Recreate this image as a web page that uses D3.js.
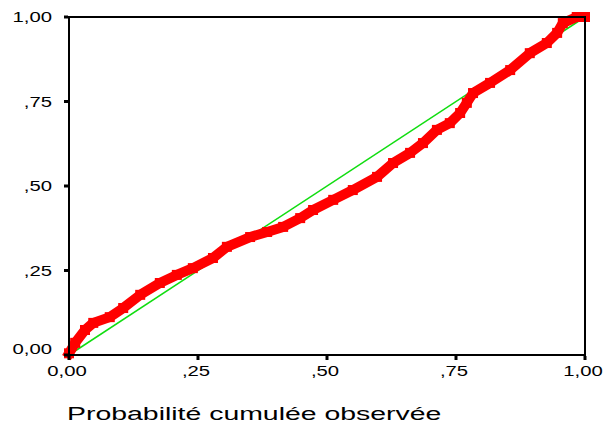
<!DOCTYPE html>
<html>
<head>
<meta charset="utf-8">
<script src="https://cdn.jsdelivr.net/npm/d3@7"></script>
<style>
  body { margin: 0; background: #fff; }
  text { font-family: "Liberation Sans", Arial, sans-serif; fill: #000; }
</style>
</head>
<body>
<svg id="chart" width="609" height="425"></svg>
<script>
const observed = [0.000, 0.012, 0.031, 0.047, 0.079, 0.105, 0.138, 0.176, 0.209, 0.240,
    0.279, 0.306, 0.351, 0.384, 0.415, 0.448, 0.473, 0.512, 0.550, 0.597,
    0.628, 0.661, 0.686, 0.713, 0.738, 0.758, 0.771, 0.783, 0.816, 0.855,
    0.893, 0.926, 0.946, 0.957, 0.984, 1.000];
const expected = [0.005, 0.036, 0.074, 0.095, 0.112, 0.139, 0.178, 0.213, 0.237, 0.257,
    0.287, 0.320, 0.349, 0.364, 0.379, 0.405, 0.429, 0.459, 0.488, 0.527,
    0.568, 0.598, 0.627, 0.666, 0.686, 0.716, 0.746, 0.775, 0.805, 0.843,
    0.893, 0.923, 0.953, 0.982, 1.000, 1.000];
const tickValues = [0, 0.25, 0.5, 0.75, 1];
const tickLabels = ["0,00", ",25", ",50", ",75", "1,00"];
const xTitle = "Probabilité cumulée observée";

const svg = d3.select("#chart");
const x = d3.scaleLinear().domain([0, 1]).range([69, 585]);
const y = d3.scaleLinear().domain([0, 1]).range([355, 17]);

const points = observed.map((v, i) => ({ x: v, y: expected[i] }));

// reference diagonal
svg.append("line")
    .attr("x1", x(0)).attr("y1", y(0))
    .attr("x2", x(1)).attr("y2", y(1))
    .attr("stroke", "#11dd11")
    .attr("stroke-width", 1.5);

// data band + square markers
const line = d3.line().x(d => x(d.x)).y(d => y(d.y));
svg.append("path")
    .datum(points)
    .attr("d", line)
    .attr("fill", "none")
    .attr("stroke", "#ff0000")
    .attr("stroke-width", 10)
    .attr("stroke-linejoin", "round")
    .attr("stroke-linecap", "square");

svg.selectAll(".pt")
    .data(points)
    .enter()
    .append("rect")
    .attr("class", "pt")
    .attr("x", d => x(d.x) - 5)
    .attr("y", d => y(d.y) - 5)
    .attr("width", 10)
    .attr("height", 10)
    .attr("fill", "#ff0000")
    .attr("stroke", "none");

// frame
svg.append("rect")
    .attr("x", x(0)).attr("y", y(1))
    .attr("width", x(1) - x(0)).attr("height", y(0) - y(1))
    .attr("fill", "none")
    .attr("stroke", "#000")
    .attr("stroke-width", 2);

// tick marks
svg.selectAll(".yt").data(tickValues).enter().append("rect")
    .attr("x", x(0) - 5).attr("y", d => y(d) - 1.5)
    .attr("width", 4).attr("height", 3).attr("fill", "#000");
svg.selectAll(".xt").data(tickValues).enter().append("rect")
    .attr("x", d => x(d) - 1.5).attr("y", y(0) + 1)
    .attr("width", 3).attr("height", 4).attr("fill", "#000");

// tick labels (stretched horizontally like the original)
svg.selectAll(".yl").data(tickValues).enter().append("text")
    .attr("transform", d => `translate(52,${Math.min(y(d), 349) + 5}) scale(1.45,1)`)
    .attr("text-anchor", "end")
    .style("font-size", "14px")
    .text((d, i) => tickLabels[i]);
svg.selectAll(".xl").data(tickValues).enter().append("text")
    .attr("transform", d => `translate(${x(d) - 2},376) scale(1.45,1)`)
    .attr("text-anchor", "middle")
    .style("font-size", "14px")
    .text((d, i) => tickLabels[i]);

svg.append("text")
    .attr("transform", "translate(67,420) scale(1.58,1)")
    .style("font-size", "18px")
    .text(xTitle);
</script>
</body>
</html>
